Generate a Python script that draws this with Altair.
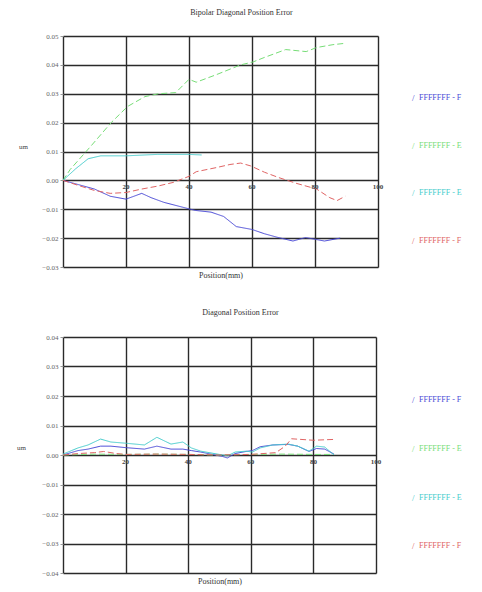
import altair as alt
import pandas as pd

FONT = "Liberation Serif"
series = ["s1", "s2", "s3", "s4"]
legend_labels = ["FFFFFFF - F", "FFFFFFF - E", "FFFFFFF - E", "FFFFFFF - F"]
colors = ["#4a4ad6", "#77dd77", "#44cccc", "#e06464"]
dashes = [[1, 0], [6, 3], [1, 0], [6, 3]]
x_tick_labels = [20, 40, 60, 80, 100]

# ---- top chart: Bipolar Diagonal Position Error ----
top_blue_x = [0, 5, 10, 15, 20, 25, 28, 32, 38, 42, 47, 51, 55, 60, 64, 68, 73, 77, 80, 83, 88]
top_blue_y = [0, -0.0015, -0.003, -0.0055, -0.0065, -0.0045, -0.006, -0.0076, -0.0093, -0.0104,
              -0.011, -0.0125, -0.016, -0.017, -0.0185, -0.0197, -0.021, -0.0198, -0.0204, -0.021, -0.020]
top_green_x = [0, 2.3, 8.8, 15.3, 20.5, 26, 30.3, 35.8, 40, 42.3, 48.9, 56.4, 60.3, 64, 70.7, 77.2, 80.5, 85.7, 89]
top_green_y = [0, 0.0038, 0.0118, 0.020, 0.0256, 0.029, 0.030, 0.0304, 0.035, 0.034, 0.0367, 0.040,
               0.041, 0.0426, 0.0453, 0.0446, 0.046, 0.047, 0.0474]
top_cyan_x = [0, 4, 8, 12, 20, 30, 40, 44]
top_cyan_y = [0, 0.004, 0.0075, 0.0085, 0.0085, 0.009, 0.009, 0.0088]
top_red_x = [0, 5, 10, 15, 20, 25, 30, 35, 40, 42.3, 49, 53, 56.4, 59.6, 64, 68.4, 74, 80.5, 84.7, 87, 89.6]
top_red_y = [0, -0.0018, -0.0035, -0.0045, -0.0042, -0.003, -0.002, -0.0007, 0.0014, 0.003, 0.0045,
             0.0055, 0.006, 0.005, 0.0028, 0.001, -0.001, -0.003, -0.006, -0.007, -0.0055]
top_y_ticks = [-0.03, -0.02, -0.01, 0.0, 0.01, 0.02, 0.03, 0.04, 0.05]

# ---- bottom chart: Diagonal Position Error ----
bot_x = [0, 4.8, 8, 12, 15.3, 20, 26, 30, 34.5, 38.3, 41, 44, 51, 52.5, 55, 58.5, 60.5, 63, 67, 72, 75,
         78.6, 81, 83.6, 86.6]
bot_cyan_y = [0.0003, 0.0024, 0.0034, 0.0054, 0.0044, 0.004, 0.0034, 0.006, 0.0037, 0.0044, 0.0024,
              0.0013, 0, -0.0003, 0.001, 0.0013, 0.001, 0.0024, 0.0034, 0.0037, 0.003, 0.0013, 0.003,
              0.0027, 0]
bot_blue_y = [0, 0.0015, 0.002, 0.003, 0.003, 0.0025, 0.002, 0.003, 0.002, 0.002, 0.0015, 0.001,
              -0.0005, -0.001, 0.0005, 0.0012, 0.0015, 0.0028, 0.0034, 0.0036, 0.003, 0.0012, 0.0022,
              0.002, 0.0003]
bot_green_x = [0, 10, 20, 30, 40, 50, 60, 70, 80, 86.6]
bot_green_y = [0, 0.0003, 0.0002, 0.0003, 0.0002, 0, 0.0002, 0.0003, 0.0002, 0.0002]
bot_red_x = [0, 5, 10, 13, 17, 20, 30, 40, 50, 60, 68, 71, 73, 80, 87]
bot_red_y = [0, 0.0005, 0.0008, 0.0012, 0.0005, 0.0002, 0.0003, 0.0002, 0, 0.0002, 0.0008, 0.003,
             0.0055, 0.005, 0.0053]
bot_y_ticks = [-0.04, -0.03, -0.02, -0.01, 0.0, 0.01, 0.02, 0.03, 0.04]


def long_df(pairs):
    rows = []
    for s, (xs, ys) in zip(series, pairs):
        for i, (a, b) in enumerate(zip(xs, ys)):
            rows.append({"x": a, "y": b, "series": s, "order": i})
    return pd.DataFrame(rows)


def make_row(df, yticks, title, width, height, title_x, title_y, legend_x, title_offset):
    ymin, ymax = yticks[0], yticks[-1]
    xscale = alt.Scale(domain=[0, 100], nice=False, zero=False)
    yscale = alt.Scale(domain=[ymin, ymax], nice=False, zero=False)
    lines = alt.Chart(df).mark_line(strokeWidth=1).encode(
        x=alt.X("x:Q", scale=xscale,
                axis=alt.Axis(values=[0, 20, 40, 60, 80, 100], tickCount=6, labels=False, ticks=False,
                              domain=False, grid=True, gridColor="#2a2a2a", gridWidth=1.4,
                              title="Position(mm)", titleFont=FONT, titleFontSize=8,
                              titleFontWeight="normal", titleColor="#333", titlePadding=4)),
        y=alt.Y("y:Q", scale=yscale,
                axis=alt.Axis(values=yticks, tickCount=len(yticks), format=".2f", labelFont=FONT,
                              labelFontSize=7, labelColor="#666", ticks=True, tickSize=3,
                              tickColor="#999", domain=False, grid=True, gridColor="#2a2a2a",
                              gridWidth=1.4, labelPadding=2, title="um", titleAngle=0,
                              titleFont=FONT, titleFontSize=7, titleFontWeight="normal",
                              titleColor="#444", titleX=title_x, titleY=title_y,
                              titleAlign="center", titleBaseline="middle")),
        color=alt.Color("series:N", scale=alt.Scale(domain=series, range=colors), legend=None),
        strokeDash=alt.StrokeDash("series:N", scale=alt.Scale(domain=series, range=dashes), legend=None),
        order="order:Q",
    )
    xl = pd.DataFrame({"t": x_tick_labels, "z": [0] * len(x_tick_labels)})
    xlabels = alt.Chart(xl).mark_text(dy=7, font=FONT, fontSize=7, fontWeight="bold",
                                      color="#444").encode(
        x=alt.X("t:Q", scale=xscale), y=alt.Y("z:Q", scale=yscale), text="t:Q")
    plot = alt.layer(lines, xlabels).properties(
        width=width, height=height,
        title=alt.TitleParams(title, font=FONT, fontSize=8, fontWeight="normal", color="#333",
                              offset=title_offset, dx=21),
    )
    leg = pd.DataFrame({"idx": [0, 1, 2, 3], "label": legend_labels, "series": series})
    lscale = alt.Scale(domain=[-1.3, 3.55], reverse=True, nice=False, zero=False)
    cscale = alt.Scale(domain=series, range=colors)
    ltext = alt.Chart(leg).mark_text(align="left", baseline="middle", font=FONT, fontSize=8).encode(
        x=alt.value(legend_x + 7), y=alt.Y("idx:Q", scale=lscale, axis=None), text="label:N",
        color=alt.Color("series:N", scale=cscale, legend=None))
    lslash = alt.Chart(leg).mark_text(align="left", baseline="middle", font=FONT, fontSize=9,
                                      text="/").encode(
        x=alt.value(legend_x), y=alt.Y("idx:Q", scale=lscale, axis=None),
        color=alt.Color("series:N", scale=cscale, legend=None))
    legend = alt.layer(lslash, ltext).properties(
        width=60, height=height, view=alt.ViewBackground(strokeOpacity=0))
    return alt.hconcat(plot, legend, spacing=22)


top_df = long_df([(top_blue_x, top_blue_y), (top_green_x, top_green_y),
                  (top_cyan_x, top_cyan_y), (top_red_x, top_red_y)])
bot_df = long_df([(bot_x, bot_blue_y), (bot_green_x, bot_green_y),
                  (bot_x, bot_cyan_y), (bot_red_x, bot_red_y)])

top_row = make_row(top_df, top_y_ticks, "Bipolar Diagonal Position Error", 315, 231, -40, 110, 6, 15)
bot_row = make_row(bot_df, bot_y_ticks, "Diagonal Position Error", 313, 236, -42, 110, 8, 16)

chart = alt.vconcat(top_row, bot_row, spacing=28).properties(
    padding={"left": 8, "top": 0, "right": 0, "bottom": 0}).configure_view(
    stroke="#888", strokeWidth=1).configure(background="white")

chart.save("out.html", embed_options={"renderer": "svg", "actions": False})
